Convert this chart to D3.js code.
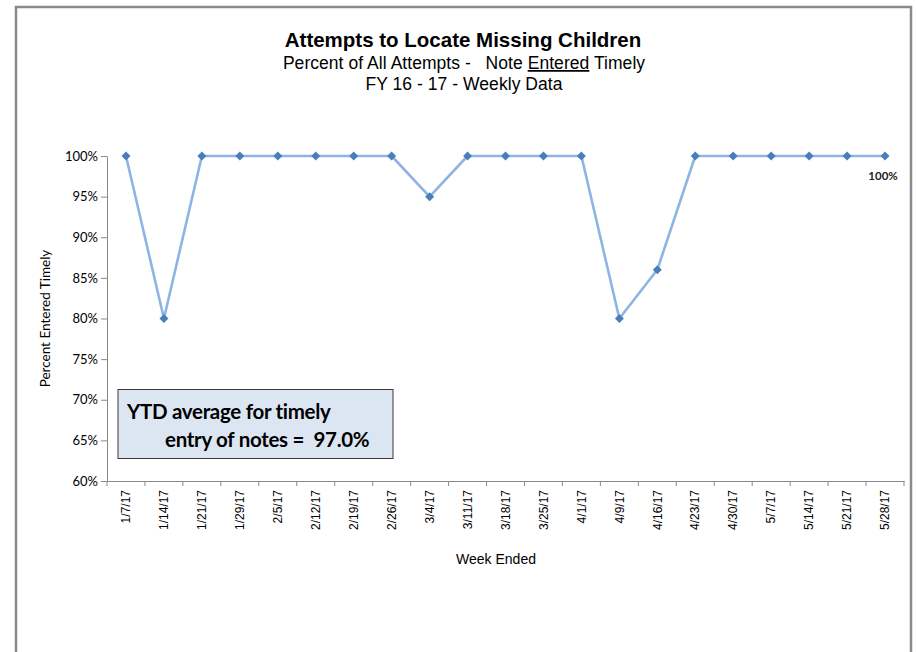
<!DOCTYPE html>
<html>
<head>
<meta charset="utf-8">
<script src="https://cdn.jsdelivr.net/npm/d3@7/dist/d3.min.js"></script>
<style>
  html, body { margin: 0; padding: 0; background: #fff; }
  svg { display: block; }
</style>
</head>
<body>
<svg id="chart" width="916" height="652"></svg>
<script>
const weeks = ["1/7/17","1/14/17","1/21/17","1/29/17","2/5/17","2/12/17","2/19/17","2/26/17","3/4/17","3/11/17","3/18/17","3/25/17","4/1/17","4/9/17","4/16/17","4/23/17","4/30/17","5/7/17","5/14/17","5/21/17","5/28/17"];
const timely = [100,80,100,100,100,100,100,100,95,100,100,100,100,80,86,100,100,100,100,100,100];
const yTicks = [60,65,70,75,80,85,90,95,100];
const titleText = "Attempts to Locate Missing Children";
const ytdLines = ["YTD average for timely", "entry of notes =  97.0%"];
const lastLabel = "100%";

const svg = d3.select("#chart");

// outer frame (left, top, right)
svg.append("path")
  .attr("d", "M16,652 L16,7 L911,7 L911,652")
  .attr("fill", "none").attr("stroke", "#8a8a8a").attr("stroke-width", 2.5);

const pLeft = 107, pRight = 904, pTop = 156, pBottom = 481;

const x = d3.scaleBand().domain(weeks).range([pLeft, pRight]).padding(0);
const y = d3.scaleLinear().domain([60, 100]).range([pBottom, pTop]);

// Titles
svg.append("text").attr("x", 463).attr("y", 47).attr("text-anchor", "middle")
  .attr("font-family", "Liberation Sans, Arial, sans-serif").attr("font-weight", "bold")
  .attr("font-size", 20.5).attr("fill", "#000").text(titleText);

const sub = svg.append("text").attr("x", 464).attr("y", 69).attr("text-anchor", "middle")
  .attr("font-family", "Liberation Sans, Arial, sans-serif").attr("font-size", 17.5)
  .attr("fill", "#000").attr("letter-spacing", 0.05);
sub.append("tspan").text("Percent of All Attempts -   Note ");
sub.append("tspan").attr("text-decoration", "underline").text("Entered");
sub.append("tspan").text(" Timely");
sub.style("white-space", "pre");

svg.append("text").attr("x", 464).attr("y", 90).attr("text-anchor", "middle")
  .attr("font-family", "Liberation Sans, Arial, sans-serif").attr("font-size", 17.5)
  .attr("fill", "#000").attr("letter-spacing", 0.05).text("FY 16 - 17 - Weekly Data");

// Y axis
const yAxis = d3.axisLeft(y).tickValues(yTicks).tickSize(6).tickSizeOuter(0)
  .tickFormat(d => d + "%");
const gy = svg.append("g").attr("transform", `translate(${pLeft},0)`).call(yAxis);
gy.select(".domain").attr("stroke", "#898989");
gy.selectAll(".tick line").attr("stroke", "#898989");
gy.selectAll(".tick text").attr("font-family", "Lato, 'Open Sans', sans-serif")
  .attr("font-size", 13).attr("fill", "#000").attr("x", -9);

// X axis
const xAxis = d3.axisBottom(x).tickSize(0).tickSizeOuter(0);
const gx = svg.append("g").attr("transform", `translate(0,${pBottom})`).call(xAxis);
gx.select(".domain").attr("stroke", "#898989");
gx.selectAll(".tick text")
  .attr("font-family", "Liberation Sans, Arial, sans-serif").attr("font-size", 12)
  .attr("fill", "#000")
  .attr("transform", "rotate(-90)")
  .attr("text-anchor", "end").attr("x", -9).attr("y", 0).attr("dy", "0.35em");
// category boundary ticks
const bounds = weeks.map(w => x(w)).concat([x(weeks[weeks.length - 1]) + x.bandwidth()]);
gx.selectAll(".btick").data(bounds).enter().append("line")
  .attr("x1", d => d).attr("x2", d => d).attr("y1", 0).attr("y2", 5)
  .attr("stroke", "#898989");

// Axis titles
svg.append("text").attr("transform", `translate(50,${(pTop + pBottom) / 2}) rotate(-90)`)
  .attr("text-anchor", "middle").attr("font-family", "Lato, 'Open Sans', sans-serif")
  .attr("font-size", 13.5).attr("fill", "#000").text("Percent Entered Timely");

svg.append("text").attr("x", 496).attr("y", 564).attr("text-anchor", "middle")
  .attr("font-family", "Liberation Sans, Arial, sans-serif").attr("font-size", 14)
  .attr("fill", "#000").text("Week Ended");

// Line
const cx = (d, i) => x(weeks[i]) + x.bandwidth() / 2;
const line = d3.line().x((d, i) => cx(d, i)).y(d => y(d));
svg.append("path").datum(timely).attr("d", line)
  .attr("fill", "none").attr("stroke", "#8eb4e3").attr("stroke-width", 2.6)
  .attr("stroke-linejoin", "round");

// Diamond markers
svg.selectAll(".mk").data(timely).enter().append("path")
  .attr("d", "M0,-4.5 L4.5,0 L0,4.5 L-4.5,0 Z")
  .attr("transform", (d, i) => `translate(${cx(d, i)},${y(d)})`)
  .attr("fill", "#4a7ebb");

// Data label on last point
const li = timely.length - 1;
svg.append("text").attr("x", cx(timely[li], li) - 2).attr("y", y(timely[li]) + 24)
  .attr("text-anchor", "middle").attr("font-family", "Lato, 'Open Sans', sans-serif")
  .attr("font-weight", "bold").attr("font-size", 11.5).attr("fill", "#222")
  .text(lastLabel);

// YTD annotation box
svg.append("rect").attr("x", 118).attr("y", 389.5).attr("width", 275).attr("height", 69)
  .attr("fill", "#dce6f2").attr("stroke", "#3a3a3a").attr("stroke-width", 1);
svg.append("text").attr("x", 127).attr("y", 419)
  .attr("font-family", "Lato, 'Open Sans', sans-serif").attr("font-weight", "bold")
  .attr("font-size", 20.5).attr("fill", "#000").attr("letter-spacing", -0.3).text(ytdLines[0]);
svg.append("text").attr("x", 165).attr("y", 447)
  .attr("font-family", "Lato, 'Open Sans', sans-serif").attr("font-weight", "bold")
  .attr("font-size", 20.5).attr("fill", "#000").attr("letter-spacing", -0.3)
  .style("white-space", "pre").text(ytdLines[1]);
</script>
</body>
</html>
